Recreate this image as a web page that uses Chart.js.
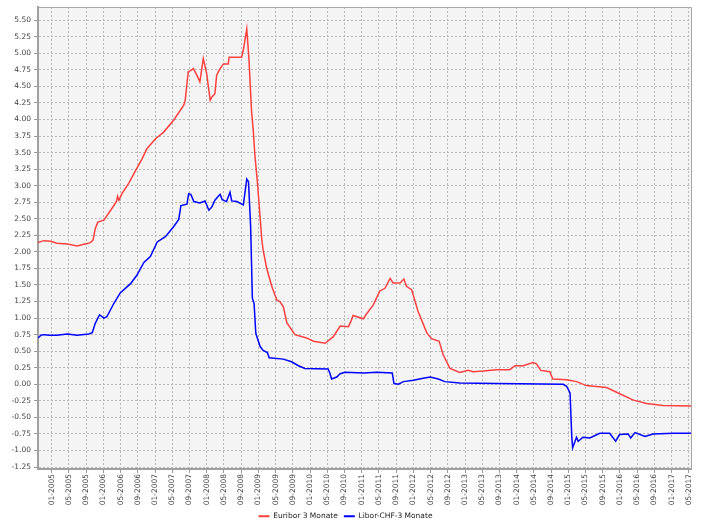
<!DOCTYPE html>
<html>
<head>
<meta charset="utf-8">
<script src="https://cdn.jsdelivr.net/npm/chart.js@4/dist/chart.umd.min.js"></script>
<style>html,body{margin:0;padding:0;background:#fff;}canvas{display:block;}</style>
</head>
<body>
<canvas id="c" width="701" height="522"></canvas>
<script>
// x values: months since 01-2005 (fractional)
const euriborX = [-3.2,-1.8,-0.3,1.2,3.6,5.9,7.7,9.0,9.6,10.1,10.7,12.1,14.0,15.0,15.3,15.6,16.3,17.9,19.4,21.0,22.1,24.1,26.0,28.3,30.7,31.0,31.4,31.7,32.2,32.9,33.7,34.4,35.2,36.0,36.8,37.2,37.9,38.3,39.1,39.9,41.0,41.2,44.1,44.5,45.3,45.8,46.4,46.8,47.2,47.8,48.8,49.1,49.9,51.1,52.3,53.0,53.8,54.6,56.5,59.2,60.8,63.5,65.4,67.0,68.9,69.5,70.0,72.4,73.2,74.7,76.2,77.4,78.6,79.3,80.9,81.8,82.4,83.6,85.1,87.1,88.2,90.0,90.9,92.5,94.8,96.7,97.9,100.2,103.3,106.4,107.6,109.5,111.8,112.6,113.6,115.7,116.4,119.6,121.9,124.2,128.9,131.2,135.1,138.2,142.0,148.5];
const euriborY = [2.14,2.17,2.16,2.13,2.12,2.09,2.12,2.14,2.18,2.35,2.45,2.48,2.66,2.76,2.84,2.78,2.88,3.04,3.22,3.41,3.56,3.71,3.81,3.99,4.22,4.29,4.54,4.72,4.74,4.77,4.67,4.57,4.92,4.69,4.29,4.34,4.39,4.67,4.77,4.84,4.84,4.94,4.94,5.05,5.37,4.92,4.14,3.84,3.45,3.03,2.18,2.03,1.76,1.48,1.27,1.25,1.17,0.93,0.75,0.70,0.65,0.62,0.72,0.88,0.87,0.95,1.04,0.99,1.07,1.20,1.41,1.45,1.60,1.53,1.53,1.59,1.48,1.43,1.10,0.78,0.69,0.65,0.45,0.24,0.18,0.21,0.19,0.20,0.22,0.22,0.28,0.28,0.33,0.31,0.21,0.19,0.08,0.07,0.04,-0.02,-0.05,-0.12,-0.24,-0.29,-0.32,-0.33];

const liborX = [-3.2,-2.5,-1.9,-0.4,1.2,3.6,5.9,8.6,9.4,10.1,11.1,12.1,12.8,14.4,15.9,18.3,19.8,21.4,22.9,24.5,26.4,28.3,29.5,30.0,31.4,31.8,32.3,33.0,34.4,35.6,36.5,37.2,37.9,39.1,39.6,40.6,41.4,41.8,43.0,44.5,45.3,45.7,46.2,46.6,47.0,47.4,48.4,49.1,50.1,50.5,53.8,55.7,57.3,58.8,64.2,64.6,65.0,66.2,67.0,68.1,72.4,75.5,79.1,79.5,80.5,81.7,84.0,86.3,87.9,89.8,91.3,94.8,103.3,118.8,119.6,120.4,120.8,121.0,121.4,121.9,122.3,123.4,125.0,127.3,129.6,131.0,131.9,133.9,134.5,135.5,137.8,139.7,144.4,148.5];
const liborY = [0.70,0.74,0.75,0.74,0.74,0.76,0.74,0.76,0.78,0.92,1.05,1.00,1.02,1.22,1.38,1.52,1.65,1.84,1.93,2.15,2.23,2.38,2.49,2.70,2.72,2.88,2.87,2.76,2.74,2.77,2.63,2.68,2.78,2.87,2.79,2.76,2.90,2.77,2.76,2.71,3.10,3.06,2.38,1.30,1.22,0.77,0.57,0.51,0.48,0.40,0.38,0.34,0.28,0.24,0.23,0.17,0.08,0.11,0.16,0.18,0.17,0.18,0.17,0.01,0.00,0.04,0.06,0.09,0.11,0.08,0.04,0.02,0.01,0.00,-0.03,-0.13,-0.79,-0.96,-0.89,-0.80,-0.86,-0.80,-0.81,-0.74,-0.74,-0.86,-0.76,-0.75,-0.81,-0.73,-0.79,-0.75,-0.74,-0.74];

const xTickLabels = ["01-2005","05-2005","09-2005","01-2006","05-2006","09-2006","01-2007","05-2007","09-2007","01-2008","05-2008","09-2008","01-2009","05-2009","09-2009","01-2010","05-2010","09-2010","01-2011","05-2011","09-2011","01-2012","05-2012","09-2012","01-2013","05-2013","09-2013","01-2014","05-2014","09-2014","01-2015","05-2015","09-2015","01-2016","05-2016","09-2016","01-2017","05-2017"];
const yTickValues = [-1.25,-1.00,-0.75,-0.50,-0.25,0.00,0.25,0.50,0.75,1.00,1.25,1.50,1.75,2.00,2.25,2.50,2.75,3.00,3.25,3.50,3.75,4.00,4.25,4.50,4.75,5.00,5.25,5.50];

const labelToMonth = s => { const [m, y] = s.split('-').map(Number); return (y - 2005) * 12 + (m - 1); };
const xTickPos = xTickLabels.map(labelToMonth);
const labelFor = v => { const i = xTickPos.indexOf(v); return i >= 0 ? xTickLabels[i] : ''; };

const FONT = {family: 'DejaVu Sans', size: 7.5};
const plotFrame = {
  id: 'plotFrame',
  beforeDraw(chart) {
    const {ctx, chartArea: a} = chart;
    ctx.save();
    ctx.fillStyle = '#f4f4f4';
    ctx.fillRect(a.left, a.top, a.right - a.left, a.bottom - a.top);
    ctx.restore();
  },
  afterDraw(chart) {
    const {ctx, chartArea: a} = chart;
    ctx.save();
    ctx.strokeStyle = '#a8a8a8';
    ctx.lineWidth = 1;
    ctx.beginPath();
    ctx.moveTo(a.left, a.top + 0.5);
    ctx.lineTo(a.right + 0.5, a.top + 0.5);
    ctx.lineTo(a.right + 0.5, a.bottom);
    ctx.stroke();
    ctx.restore();
  }
};

const zip = (xs, ys) => xs.map((x, i) => ({x, y: ys[i]}));

new Chart(document.getElementById('c'), {
  type: 'line',
  data: {
    datasets: [
      {label: 'Euribor 3 Monate', data: zip(euriborX, euriborY), borderColor: '#ff4040', backgroundColor: '#ff4040', borderWidth: 1.5, pointRadius: 0, tension: 0},
      {label: 'Libor-CHF-3 Monate', data: zip(liborX, liborY), borderColor: '#0000ff', backgroundColor: '#0000ff', borderWidth: 1.5, pointRadius: 0, tension: 0}
    ]
  },
  options: {
    responsive: false,
    animation: false,
    devicePixelRatio: 1,
    layout: {padding: {left: 0, right: 10, top: 7, bottom: -8}},
    plugins: {
      legend: {
        position: 'bottom',
        labels: {
          font: FONT, color: '#222', boxWidth: 11, boxHeight: 2, padding: 6,
          generateLabels: (chart) => Chart.defaults.plugins.legend.labels.generateLabels(chart).map(l => Object.assign(l, {lineWidth: 0}))
        }
      },
      tooltip: {enabled: false}
    },
    scales: {
      x: {
        type: 'linear', min: -3.2, max: 148.5,
        afterBuildTicks: s => { s.ticks = xTickPos.map(v => ({value: v})); },
        afterFit: s => { s.height = 37.5; s.paddingLeft = 0; s.paddingRight = 0; },
        ticks: {autoSkip: false, minRotation: 90, maxRotation: 90, padding: 1, font: FONT, color: '#444', callback: v => labelFor(v)},
        grid: {color: '#b8b8b8', lineWidth: 1, tickLength: 4, tickColor: '#999', tickBorderDash: []},
        border: {display: true, color: '#a0a0a0', width: 2, dash: [2, 2]}
      },
      y: {
        min: -1.28, max: 5.70,
        afterBuildTicks: s => { s.ticks = yTickValues.map(v => ({value: v})); },
        afterFit: s => { s.width = 38; s.paddingTop = 0; s.paddingBottom = 0; },
        ticks: {padding: 3, font: FONT, color: '#444', callback: v => Number(v).toFixed(2)},
        grid: {color: '#b8b8b8', lineWidth: 1, tickLength: 4, tickColor: '#999', tickBorderDash: []},
        border: {display: true, color: '#a0a0a0', width: 2, dash: [2, 2]}
      }
    }
  },
  plugins: [plotFrame]
});
</script>
</body>
</html>
